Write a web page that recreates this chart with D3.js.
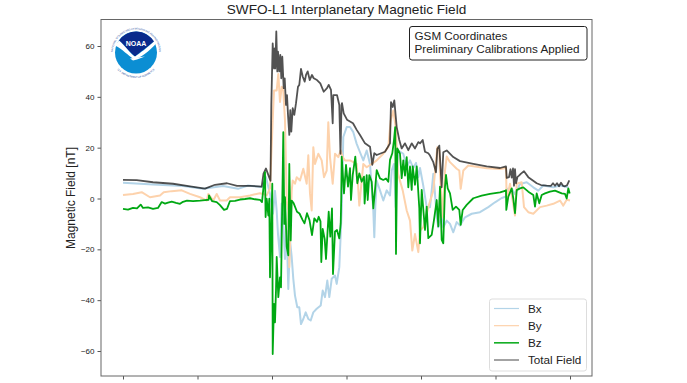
<!DOCTYPE html>
<html>
<head>
<meta charset="utf-8">
<script src="https://cdn.jsdelivr.net/npm/d3@7"></script>
<style>
  html, body { margin: 0; padding: 0; background: #fff; }
  text { font-family: "Liberation Sans", Arial, sans-serif; }
</style>
</head>
<body>
<svg id="chart" width="687" height="383"></svg>
<script>
const yTickValues = [-60, -40, -20, 0, 20, 40, 60];
const xTickValues = [0, 74.5, 149, 223.5, 298, 372.5, 447];

const bxTime = [0,30,60,80,100,115,125,139,143,147,150,152,153.7,155,157,158.7,160.3,162,163.7,165.3,167,168.7,170.3,172,174.3,176.3,178,180.3,182.7,185.3,187.7,190.3,193.7,197.7,199.7,202,204.3,206.3,208.7,212,213.7,216.3,217.7,218.7,220.3,223.7,227,230.3,233.7,237,240.3,243.7,247,248.7,250.3,251.3,252.3,253.7,257,260.3,263.7,267,268.7,271,272.7,275.3,280.3,283.7,287,290.3,293,295.3,297,300.3,303.7,307,308.7,310.3,312,313.7,315.3,318.7,320.3,323.7,327,330.3,333.7,337,342,348.7,357,365.3,372,378.7,383,384.3,388.7,392,397,403.7,410.3,415.3,420.3,430.3,437,445.3];
const bxValues = [6.2,5.5,4.9,3.8,4.9,3.8,5.1,4.5,8.4,1.8,-6,3,-5,-14,-23,-2,-10,-23.8,-12.6,-35.6,-16.5,-23,-31.6,-38.2,-42.8,-42.8,-49.4,-47.4,-44.8,-47.4,-48,-44.8,-43.4,-42.1,-36.2,-38.8,-32.3,-38.8,-31.6,-30.3,-33.6,-27,-14,-4.7,24.2,28.1,28.1,26.1,21.5,18.2,15,18.9,13.6,4.5,-4.7,-15.2,-3.4,7,3.2,-.8,3.2,1.2,11,13.6,-3.4,18.9,17.6,12.3,15,12,14,8.4,12,5,-3.4,-3.4,3.1,9.7,1.8,-7.4,-11.3,-7.4,-11.3,-8.7,-10,-13.3,-9.3,-10.6,-7.4,-6,-5.4,-3.4,-1.5,.2,.8,3.8,3.8,1.8,5.7,6.4,4.4,3.1,5.1,4.4,5.1,4.4];

const byTime = [0,10,18.7,27,37,40.7,48.7,58.7,67,77,83.7,85.3,90.3,93.7,97,103.7,107,117,127,137,140.3,143.7,147,149.7,151,153.7,155.3,157,158.7,160.3,162,163.7,165.3,166.3,168.7,169.7,172,173.7,177,180.3,183.7,185.3,187,188.7,190.3,192,195.3,198.7,201,203.7,205.3,207,209.7,212,215.3,217.7,219.7,222,227,233.7,236.3,240.3,243.7,248.7,253.7,260.3,265.3,267.7,270.3,272.7,275,279.7,283.7,287,289.3,292,295.3,297,300.3,305.3,310.3,314.3,316.3,317,319.7,322,323.7,327,333.7,336.3,337.7,340.3,345.3,352,363.7,377,383,383.7,387,392,393.7,398.7,401,405.3,410.3,417,423.7,430.3,437,440.3,443.7,447];
const byValues = [1.4,1.8,2.5,.5,1.2,2.5,2.9,3.2,1.8,.5,-.8,1.8,-.8,1.8,-.8,-.8,.5,.5,1.2,2.1,1.8,1.2,4,30.7,42.5,42.5,49,38,44,42.5,30.7,-1,-4.7,-27,3,7.1,5.8,8.4,7.1,11.7,5.8,17,2,-4.7,20.2,13.6,17.6,15,8.4,11,30,16.3,5.8,17.6,16.3,18.9,16.3,15,15,13.6,-2.8,13.6,12.3,13.6,15,17.6,20.2,30.7,34.6,28.1,9.7,3.2,-4.7,-8.7,-20.5,-14,-21.1,-12.6,-11.3,-3.4,3.1,20.2,18.9,9.7,-7.4,11,16.5,14.3,11.7,11,3.8,11,13,12.6,11.9,11.6,12,-.8,5.8,-6.7,5.8,6.4,-3.4,-5.4,-6,-3.4,-2.8,-2.1,-.8,-2.8,-.5,-.8];

const bzReadings = [[0,-4.1],[5,-4.4],[10,-3.7],[14,-3.9],[17.7,-2.4],[20,-3.7],[25,-3.5],[30,-4.1],[35,-3.7],[38.7,-1.4],[42,-2],[45,-1.6],[48.7,-1.2],[53,-1.7],[57,-2.1],[60,-1.3],[64,-.8],[70,-1],[77,-.8],[82,-.6],[85.7,-.5],[86,1.2],[89,-1],[93.7,-1.4],[97,-2.6],[101,-4.5],[104,-4.1],[107,-1],[112,-.9],[117,-.4],[122,-.2],[127,.1],[132,-.3],[137,-.5],[139,-1.4],[142,10.4],[142.6,-7.3],[143.7,-.1],[145.3,-6.7],[146.3,-.1],[147,-31],[149.3,5.8],[149.7,-61.2],[151,-41.5],[152,-48.7],[153,-36],[153.7,-23],[155.3,-38.8],[157,-31],[158,-35],[160.3,26.1],[161.3,-10],[162,.5],[163.7,-19],[165.3,-22.4],[166.3,13.6],[167.7,-16.5],[168.7,-.8],[170.7,-1.9],[174,-5.2],[176.5,-5.9],[179.7,-8.5],[181.5,-9.8],[184,-5.8],[186.5,-8.5],[189,-14.4],[191.3,-7.8],[194,-9.2],[195.7,-7.2],[197.5,-9],[198.3,-25],[199.7,-12],[201.7,-16],[203,-23.8],[205.7,-5.2],[207.3,-15],[209,-3.9],[210,-29.7],[212,-13],[214,-12.4],[216.3,-15.7],[217.7,-9.8],[218.2,-.8],[218.7,16.5],[221,2],[223,13.2],[225,4.7],[227,11.9],[228,-.6],[229.7,9.2],[232.3,16.5],[234.3,6],[236.3,9.9],[238.7,6.6],[241,8.6],[241.6,-2],[243.7,9.2],[244.7,-.6],[246.3,9.2],[248.7,6.6],[250.3,-3.9],[252,3.3],[253.7,11.2],[257,7.9],[260.3,7.3],[263,7.9],[265.3,6.6],[267,15.2],[269.3,17.8],[271,23],[272.2,28.1],[272.7,0],[273,-21.8],[274.3,19.7],[277,17.6],[278.7,8],[280.3,15],[282,9],[283.7,16.3],[285.3,4.4],[287,12.6],[288.7,3.4],[289.7,12.6],[292,5.4],[293.7,12.6],[296.3,-3.8],[297,-17.6],[298.7,3.4],[302,-12.4],[303.7,-3.2],[305.3,-15.6],[308.7,-14.3],[311,-8.4],[313.7,-.6],[315.3,-11],[317,4.7],[318.7,-16.3],[320.3,-17.6],[322,4.7],[323,9.3],[324.7,4],[327,2],[329.7,-4.5],[333,-3.2],[336.3,-4.5],[337.7,-10.4],[339.7,-4.5],[343.7,-2.5],[350.3,.1],[358.7,1.1],[367,1.8],[377,2.4],[382,3],[383,3.3],[383.3,-4.5],[385.3,.7],[388.7,4],[390.3,0],[392,-5.8],[393.7,3.3],[397,4],[400.3,4.4],[405.3,2.7],[410.3,1.4],[412,-3.2],[413.7,2],[416.3,-1.9],[418.7,1.4],[422,2],[427,2.7],[432,3.1],[438.7,2],[442,1.8],[443.7,0],[445.3,4],[446.7,2]];

const totalReadings = [[0,7.3],[13.7,7.2],[30,6.4],[50,5.8],[67,4.8],[82,3.9],[92,5.4],[104,6],[114,5],[127,5],[138.7,4.7],[140.5,9.8],[143,11.8],[146,8.5],[147.5,7],[148.3,36.8],[149.7,61],[151,51.2],[151.7,59.1],[152.3,51.2],[153.3,65.7],[154.3,50],[155,57.8],[156.3,50],[157.3,56.5],[158.3,47.3],[159.3,55.8],[160.7,43.4],[161.7,47.3],[163,36.8],[164,40.7],[165,32.9],[166.3,25],[167.3,34.8],[168.3,26.3],[169.7,35.5],[171.3,32.9],[173,37.5],[175,44],[176.3,44.7],[178,51],[179.7,48],[181.7,46],[183,48.6],[184.7,50],[186.7,46.6],[189,48.6],[190.7,47.3],[194,46.6],[197.3,45.3],[200.7,42],[204,43.4],[205.7,44.7],[208,42.7],[209.7,29.6],[210.3,40.7],[214,40.7],[216.3,36.8],[217.5,17.6],[218.5,36.8],[219,37.5],[220.7,33.5],[224,31],[230,29.6],[233.7,27],[237,25],[242,21.7],[247,20.4],[249.3,13.2],[251.3,17.8],[253.7,17.1],[262,18.4],[267,21.7],[268,37.9],[269.7,36],[271.3,38.6],[273.7,28.1],[276.3,23],[278.7,19.7],[282,21.7],[285.3,19],[288.7,21.7],[292,19.7],[295.3,22.2],[297,21.7],[299.7,23],[302,18.4],[305.3,17.8],[307,16.9],[310.3,14.3],[313,10.3],[314.3,19.5],[316.3,20.8],[318.7,4.4],[320.3,18.2],[323.7,18.9],[330.3,16.3],[337,14.7],[350.3,13.6],[363.7,12.6],[377,12],[383,12.6],[383.7,8.1],[386,8.4],[387.5,11.5],[388.7,8.2],[390,11.8],[391,5],[392,11.5],[393,6],[394.5,8.5],[396,9],[398,9.8],[401,10.7],[405.3,8.4],[413.7,6],[418,5.3],[423.7,5.1],[428,5],[430,6],[432,5],[434,6],[436,4.8],[438,6.2],[440,5],[442,4.8],[444,5.2],[446.3,7.1]];

const seriesNames = ["Bx", "By", "Bz", "Total Field"];
const seriesColors = ["#b3d4e8", "#fdd2ac", "#00a813", "#000"];

const svg = d3.select("#chart");
const frame = {left: 101, right: 592, top: 19.5, bottom: 376};

const x = d3.scaleLinear().domain([0, 447]).range([123, 570]);
const y = d3.scaleLinear().domain([0, 60]).range([198.5, 46]);

function drawSeries(times, values, color, width, opacity) {
    const line = d3.line()
        .x(d => x(times[d]))
        .y(d => y(values[d]));
    svg.append("path")
        .datum(d3.range(values.length))
        .attr("d", line)
        .attr("fill", "none")
        .attr("stroke", color)
        .attr("stroke-width", width)
        .attr("stroke-opacity", opacity)
        .attr("stroke-linejoin", "round");
}

drawSeries(bxTime, bxValues, seriesColors[0], 2, 1);
drawSeries(byTime, byValues, seriesColors[1], 2, 1);
drawSeries(totalReadings.map(d => d[0]), totalReadings.map(d => d[1]), seriesColors[3], 1.8, 0.68);
drawSeries(bzReadings.map(d => d[0]), bzReadings.map(d => d[1]), seriesColors[2], 1.8, 1);

// axes
const yAxis = svg.append("g")
    .attr("transform", `translate(${frame.left},0)`)
    .call(d3.axisLeft(y).tickValues(yTickValues).tickSize(3.5).tickPadding(3));
const xAxis = svg.append("g")
    .attr("transform", `translate(0,${frame.bottom})`)
    .call(d3.axisBottom(x).tickValues(xTickValues).tickSize(3.5).tickFormat(""));
[yAxis, xAxis].forEach(a => {
    a.select(".domain").remove();
    a.selectAll("line").attr("stroke", "#555");
});
yAxis.selectAll("text").attr("font-size", 8).attr("fill", "#222")
    .style("font-family", '"Liberation Sans", Arial, sans-serif');

svg.append("rect")
    .attr("x", frame.left).attr("y", frame.top)
    .attr("width", frame.right - frame.left)
    .attr("height", frame.bottom - frame.top)
    .attr("fill", "none").attr("stroke", "#666").attr("stroke-width", 1);

svg.append("text").attr("x", 346.5).attr("y", 14)
    .attr("text-anchor", "middle").attr("font-size", 13.6).attr("fill", "#222")
    .text("SWFO-L1 Interplanetary Magnetic Field");

svg.append("text")
    .attr("transform", "translate(75,198) rotate(-90)")
    .attr("text-anchor", "middle").attr("font-size", 12).attr("fill", "#222")
    .text("Magnetic Field [nT]");

// annotation box
svg.append("rect").attr("x", 409.5).attr("y", 26.5).attr("width", 177.5).attr("height", 33.5)
    .attr("rx", 2.5).attr("fill", "#fff").attr("stroke", "#222").attr("stroke-width", 1);
svg.append("text").attr("x", 414.5).attr("y", 39.5).attr("font-size", 11.7).attr("fill", "#222")
    .text("GSM Coordinates");
svg.append("text").attr("x", 414.5).attr("y", 53).attr("font-size", 11.7).attr("fill", "#222")
    .text("Preliminary Calibrations Applied");

// legend
svg.append("rect").attr("x", 489.5).attr("y", 299).attr("width", 97).attr("height", 72)
    .attr("rx", 2.5).attr("fill", "#fff").attr("stroke", "#ddd").attr("stroke-width", 1);
const legendY = d3.scalePoint().domain(seriesNames).range([308.5, 360]);
seriesNames.forEach((name, i) => {
    svg.append("line")
        .attr("x1", 494).attr("x2", 519)
        .attr("y1", legendY(name)).attr("y2", legendY(name))
        .attr("stroke", i === 3 ? "#666" : seriesColors[i])
        .attr("stroke-width", i === 2 ? 1.5 : 1.2);
    svg.append("text").attr("x", 528).attr("y", legendY(name) + 4.2)
        .attr("font-size", 11.7).attr("fill", "#222").text(name);
});

// NOAA logo
const logo = svg.append("g").attr("transform", "translate(136,52.5)");
logo.append("circle").attr("r", 26).attr("fill", "#fff");
logo.append("path").attr("id", "ring-top").attr("fill", "none")
    .attr("d", "M-20,12 A23.2,23.2 0 1 1 20,12");
logo.append("path").attr("id", "ring-bottom").attr("fill", "none")
    .attr("d", "M-20,15.5 A25,25 0 0 0 20,15.5");
logo.append("text").attr("font-size", 2.5).attr("fill", "#1d4a9e")
    .append("textPath").attr("href", "#ring-top").attr("startOffset", "50%").attr("text-anchor", "middle")
    .text("NATIONAL OCEANIC AND ATMOSPHERIC ADMINISTRATION");
logo.append("text").attr("font-size", 2.5).attr("fill", "#1d4a9e")
    .append("textPath").attr("href", "#ring-bottom").attr("startOffset", "50%").attr("text-anchor", "middle")
    .text("U.S. DEPARTMENT OF COMMERCE");
logo.append("circle").attr("r", 21).attr("fill", "#0b8ed3");
logo.append("path")
    .attr("d", "M-17,-12 A21,21 0 0 1 18,-11 C12,-6 6,-2 -1,4 C-6,0 -11,-7 -17,-12 Z")
    .attr("fill", "#0a2a8c");
logo.append("path")
    .attr("d", "M-21,-7 C-13,-3 -8,3 -3,6 C3,7 12,0 21,-10 L18,-11 C10,-4 5,0 -1,4 C-6,1 -11,-7 -17,-12 Z")
    .attr("fill", "#fff");
logo.append("path")
    .attr("d", "M-6,6 L9,4 L1,7 L-3,8 Z")
    .attr("fill", "#fff");
logo.append("text").attr("y", -7).attr("text-anchor", "middle")
    .attr("font-size", 7).attr("font-weight", "bold").attr("fill", "#fff").text("NOAA");
</script>
</body>
</html>
